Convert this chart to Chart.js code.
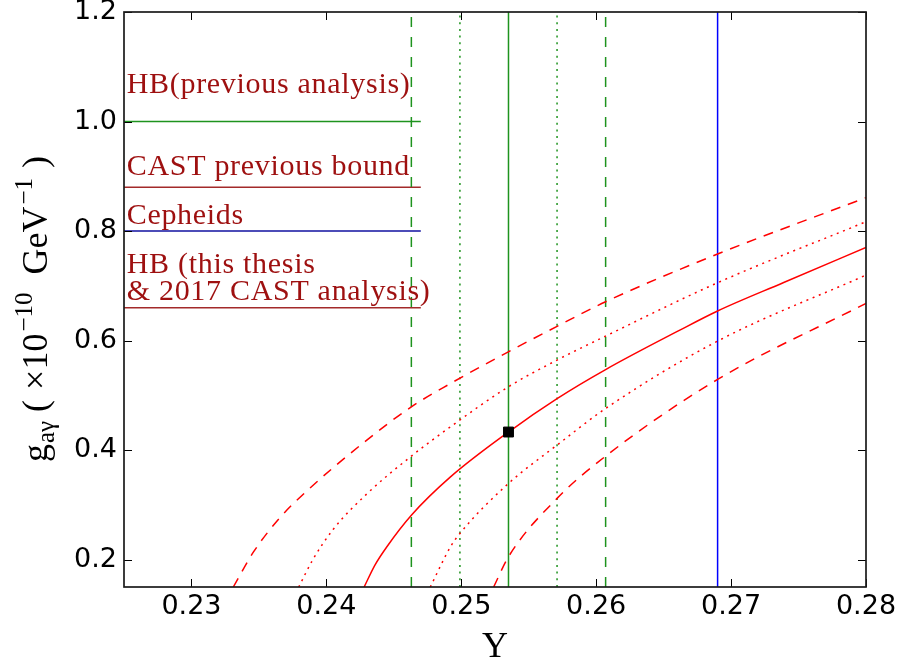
<!DOCTYPE html>
<html>
<head>
<meta charset="utf-8">
<script src="https://cdn.jsdelivr.net/npm/chart.js@4.4.1/dist/chart.umd.min.js"></script>
<style>
  html, body { margin: 0; padding: 0; background: #fff; }
  #wrap { width: 901px; height: 667px; }
</style>
</head>
<body>
<div id="wrap"><canvas id="c" width="901" height="667"></canvas></div>
<script>
// Axis ranges and tick labels
const yRange = [0.225, 0.28];     // helium abundance Y
const gRange = [0.15, 1.2];       // g_aγ in units of 1e-10 GeV^-1
const xTickValues = [0.23, 0.24, 0.25, 0.26, 0.27, 0.28];
const xTickLabels = ['0.23', '0.24', '0.25', '0.26', '0.27', '0.28'];
const yTickValues = [0.2, 0.4, 0.6, 0.8, 1.0, 1.2];
const yTickLabels = ['0.2', '0.4', '0.6', '0.8', '1.0', '1.2'];

// Central R-parameter curve (solid)
const centralY = [0.2428, 0.2436, 0.2445, 0.2463, 0.2492, 0.2535, 0.2571, 0.2607, 0.2662, 0.2690, 0.2739, 0.2800];
const centralG = [0.150, 0.190, 0.224, 0.281, 0.351, 0.433, 0.494, 0.547, 0.619, 0.654, 0.706, 0.770];

// 1-sigma band edges (dotted)
const up1Y = [0.23795, 0.2390, 0.2405, 0.2430, 0.2463, 0.2492, 0.2535, 0.2571, 0.2607, 0.2690, 0.2800];
const up1G = [0.150, 0.200, 0.255, 0.320, 0.389, 0.4426, 0.5157, 0.5644, 0.6082, 0.7056, 0.817];
const low1Y = [0.2477, 0.2492, 0.2499, 0.2535, 0.2571, 0.2607, 0.2690, 0.2800];
const low1G = [0.150, 0.2234, 0.2478, 0.3391, 0.4091, 0.476, 0.599, 0.7196];

// 2-sigma band edges (dashed)
const up2Y = [0.2331, 0.2346, 0.2365, 0.2384, 0.2430, 0.2463, 0.2492, 0.2535, 0.2571, 0.2607, 0.2690, 0.2800];
const up2G = [0.150, 0.214, 0.275, 0.322, 0.4183, 0.479, 0.5216, 0.5796, 0.626, 0.6709, 0.758, 0.861];
const low2Y = [0.2524, 0.2535, 0.2571, 0.2607, 0.2690, 0.2800];
const low2G = [0.150, 0.2052, 0.3118, 0.389, 0.529, 0.668];

// Helium abundance: best value with 1- and 2-sigma limits, plus the blue reference value
const heBest = 0.2535;
const heOneSigma = [0.2499, 0.2571];
const heTwoSigma = [0.2463, 0.2607];
const heBlue = 0.2690;

// Best-fit point
const bestPoint = { y: 0.2535, g: 0.433 };

// Earlier coupling bounds drawn as short horizontal lines
const boundValues = [1.0, 0.88, 0.8, 0.66];
const boundEnd = 0.247;

const pts = (xs, ys) => xs.map((x, i) => ({ x, y: ys[i] }));
const vline = v => [{ x: v, y: gRange[0] }, { x: v, y: gRange[1] }];
const hline = v => [{ x: yRange[0], y: v }, { x: boundEnd, y: v }];

const RED = '#ff0000';
const GREEN = '#1e931e';
const BLUE = '#0000ff';
const BROWN = '#a32a2a';
const TEXT_RED = '#9e1010';
const DASH = [10, 8];
const GDASH = [10, 10];
const DOT = [2, 4.7];

function curve(data, dash, order) {
  return {
    data, borderColor: RED, borderWidth: 1.5, borderDash: dash,
    pointRadius: 0, cubicInterpolationMode: 'monotone', fill: false, order, clip: 0
  };
}
function straight(data, color, dash, order) {
  return {
    data, borderColor: color, borderWidth: 1.5, borderDash: dash,
    pointRadius: 0, tension: 0, fill: false, order, clip: 0
  };
}

const datasets = [
  // best-fit marker on top
  { data: [{ x: bestPoint.y, y: bestPoint.g }], showLine: false, pointStyle: 'rect',
    pointRadius: 7, backgroundColor: '#000', borderColor: '#000', borderWidth: 1, order: 0 },
  curve(pts(centralY, centralG), [], 1),
  curve(pts(up1Y, up1G), DOT, 2),
  curve(pts(low1Y, low1G), DOT, 2),
  curve(pts(up2Y, up2G), DASH, 3),
  curve(pts(low2Y, low2G), DASH, 3),
  straight(vline(heBest), GREEN, [], 4),
  straight(vline(heOneSigma[0]), GREEN, DOT, 4),
  straight(vline(heOneSigma[1]), GREEN, DOT, 4),
  straight(vline(heTwoSigma[0]), GREEN, GDASH, 4),
  straight(vline(heTwoSigma[1]), GREEN, GDASH, 4),
  straight(vline(heBlue), BLUE, [], 4),
  straight(hline(boundValues[0]), GREEN, [], 5),
  straight(hline(boundValues[1]), BROWN, [], 5),
  straight(hline(boundValues[2]), '#1010a0', [], 5),
  straight(hline(boundValues[3]), BROWN, [], 5)
];

// Frame with inward ticks on all four sides
const framePlugin = {
  id: 'frame',
  afterDatasetsDraw(chart) {
    const { ctx, chartArea: a, scales: { x, y } } = chart;
    ctx.save();
    ctx.strokeStyle = '#000';
    ctx.lineWidth = 1;
    const L = 8;
    ctx.beginPath();
    xTickValues.forEach(v => {
      const px = Math.round(x.getPixelForValue(v)) + 0.5;
      ctx.moveTo(px, a.bottom); ctx.lineTo(px, a.bottom - L);
      ctx.moveTo(px, a.top); ctx.lineTo(px, a.top + L);
    });
    yTickValues.forEach(v => {
      const py = Math.round(y.getPixelForValue(v)) + 0.5;
      ctx.moveTo(a.left, py); ctx.lineTo(a.left + L, py);
      ctx.moveTo(a.right, py); ctx.lineTo(a.right - L, py);
    });
    ctx.stroke();
    ctx.lineWidth = 1.7;
    ctx.strokeStyle = '#1a1a1a';
    ctx.strokeRect(a.left, a.top, a.right - a.left, a.bottom - a.top);
    ctx.restore();
  }
};

// Text for the horizontal bounds, anchored in data coordinates
const boundTextPlugin = {
  id: 'boundText',
  afterDatasetsDraw(chart, args, opts) {
    const { ctx, scales: { x, y } } = chart;
    ctx.save();
    ctx.fillStyle = TEXT_RED;
    ctx.font = '30px "Liberation Serif"';
    ctx.letterSpacing = '0.7px';
    ctx.textAlign = 'left';
    ctx.textBaseline = 'alphabetic';
    opts.items.forEach(it => {
      ctx.fillText(it.text, x.getPixelForValue(it.x), y.getPixelForValue(it.y));
    });
    ctx.restore();
  }
};

// Axis titles: "Y" below, g_aγ (×10^-10 GeV^-1) rotated at the left
const titlePlugin = {
  id: 'titles',
  afterDraw(chart) {
    const { ctx, chartArea: a } = chart;
    ctx.save();
    ctx.fillStyle = '#000';
    ctx.font = '36px "Liberation Serif"';
    ctx.textAlign = 'center';
    ctx.textBaseline = 'alphabetic';
    ctx.fillText('Y', (a.left + a.right) / 2, 657);

    const MAIN = '36px "Liberation Serif"';
    const SCRIPT = '25px "Liberation Serif"';
    const pieces = [
      { t: 'g', f: MAIN, dy: 0, gap: 1 },
      { t: 'aγ', f: SCRIPT, dy: 7, gap: 9 },
      { t: '(', f: MAIN, dy: 0, gap: 10 },
      { t: '×10', f: MAIN, dy: 0, gap: 2 },
      { t: '−10', f: SCRIPT, dy: -15, gap: 18 },
      { t: 'GeV', f: MAIN, dy: 0, gap: 2 },
      { t: '−1', f: SCRIPT, dy: -15, gap: 10 },
      { t: ')', f: MAIN, dy: 0, gap: 0 }
    ];
    let total = 0;
    pieces.forEach(p => { ctx.font = p.f; p.w = ctx.measureText(p.t).width; total += p.w + p.gap; });
    const cy = 309, bx = 47;
    ctx.translate(bx, cy);
    ctx.rotate(-Math.PI / 2);
    ctx.textAlign = 'left';
    let u = -total / 2;
    pieces.forEach(p => {
      ctx.font = p.f;
      ctx.fillText(p.t, u, p.dy);
      u += p.w + p.gap;
    });
    ctx.restore();
  }
};

const tickFont = { family: '"DejaVu Sans"', size: 27, lineHeight: 1.2 };

new Chart(document.getElementById('c'), {
  type: 'line',
  data: { datasets },
  plugins: [framePlugin, boundTextPlugin, titlePlugin],
  options: {
    responsive: false,
    animation: false,
    events: [],
    layout: { padding: { top: 12, right: 35, left: 0, bottom: 0 } },
    plugins: {
      legend: { display: false },
      tooltip: { enabled: false },
      boundText: {
        items: [
          { text: 'HB(previous analysis)', x: 0.2252, y: 1.052 },
          { text: 'CAST previous bound', x: 0.2252, y: 0.9023 },
          { text: 'Cepheids', x: 0.2252, y: 0.8128 },
          { text: 'HB (this thesis', x: 0.2252, y: 0.7238 },
          { text: '& 2017 CAST analysis)', x: 0.2252, y: 0.674 }
        ]
      }
    },
    scales: {
      x: {
        type: 'linear', min: yRange[0], max: yRange[1],
        afterBuildTicks: s => { s.ticks = xTickValues.map(v => ({ value: v })); },
        afterFit: s => { s.height = 80; s.paddingLeft = 0; s.paddingRight = 0; },
        ticks: {
          autoSkip: false, maxRotation: 0, padding: 4, color: '#000', font: tickFont,
          callback: (v, i) => xTickLabels[i]
        },
        grid: { display: false, drawTicks: false },
        border: { display: false }
      },
      y: {
        type: 'linear', min: gRange[0], max: gRange[1],
        afterBuildTicks: s => { s.ticks = yTickValues.map(v => ({ value: v })); },
        afterFit: s => { s.width = 124; s.paddingTop = 0; s.paddingBottom = 0; },
        ticks: {
          autoSkip: false, padding: 7, color: '#000', font: { family: '"DejaVu Sans"', size: 27, lineHeight: 0.8 },
          callback: (v, i) => yTickLabels[i]
        },
        grid: { display: false, drawTicks: false },
        border: { display: false }
      }
    }
  }
});
</script>
</body>
</html>
